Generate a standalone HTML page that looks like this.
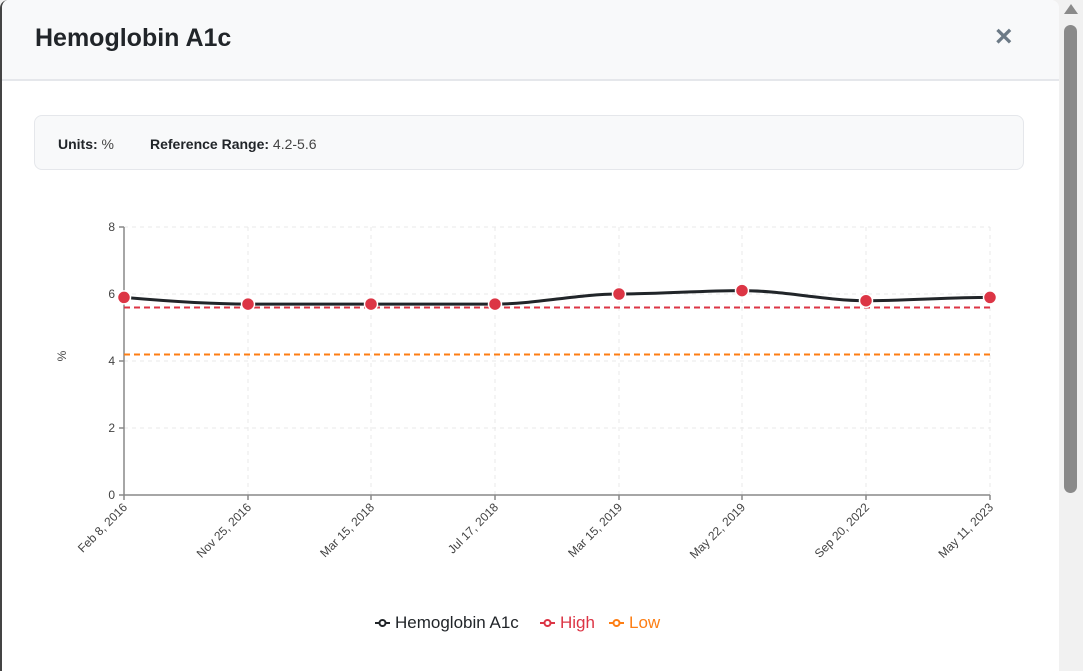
<!DOCTYPE html>
<html><head><style>
body{margin:0;width:1083px;height:671px;overflow:hidden;background:#f1f1f1;font-family:"Liberation Sans",sans-serif;position:relative}
.modal{position:absolute;left:0;top:0;width:1059px;height:671px;background:#fff;border-radius:8px 8px 0 0;overflow:hidden;border-left:2px solid #444;box-sizing:border-box}
.hdr{height:79px;background:#f8f9fa;border-bottom:2px solid #e5e7eb;position:relative}
.hdr h1{margin:0;position:absolute;left:33px;top:24px;font-size:25px;font-weight:600;color:#212529}
.x{position:absolute;left:993px;top:20px;font-size:30px;color:#6c7a86;font-weight:bold}
.info{position:absolute;left:32px;top:115px;width:990px;height:55px;box-sizing:border-box;background:#f8f9fa;border:1px solid #e5e7eb;border-radius:8px;font-size:14px;color:#444}
.info b{color:#212529;font-weight:600}
.sb{position:absolute;left:1064px;top:25px;width:13px;height:468px;background:#8a8a8a;border-radius:7px}
.arr{position:absolute;left:1064px;top:4px;width:0;height:0;border-left:7px solid transparent;border-right:7px solid transparent;border-bottom:10px solid #8a8a8a}
</style></head><body>
<div class="modal">
<div class="hdr"><h1>Hemoglobin A1c</h1><div class="x">×</div></div>
<div class="info"><span style="position:absolute;left:23px;top:20px"><b>Units:</b> %</span><span style="position:absolute;left:115px;top:20px"><b>Reference Range:</b> 4.2-5.6</span></div>
</div>
<div class="arr"></div><div class="sb"></div>
<svg width="1083" height="671" style="position:absolute;left:0;top:0" font-family="Liberation Sans, sans-serif">
<g stroke="#e8e8e8" stroke-dasharray="4,4" stroke-width="1">
<line x1="124" y1="227" x2="990" y2="227"/><line x1="124" y1="294" x2="990" y2="294"/><line x1="124" y1="361" x2="990" y2="361"/><line x1="124" y1="428" x2="990" y2="428"/>
<line x1="248" y1="227" x2="248" y2="495"/><line x1="371" y1="227" x2="371" y2="495"/><line x1="495" y1="227" x2="495" y2="495"/><line x1="619" y1="227" x2="619" y2="495"/><line x1="742" y1="227" x2="742" y2="495"/><line x1="866" y1="227" x2="866" y2="495"/><line x1="990" y1="227" x2="990" y2="495"/>
</g>
<g stroke="#888" stroke-width="1.5">
<line x1="124" y1="227" x2="124" y2="495"/><line x1="124" y1="495" x2="990" y2="495"/>
<line x1="119" y1="227" x2="124" y2="227"/><line x1="119" y1="294" x2="124" y2="294"/><line x1="119" y1="361" x2="124" y2="361"/><line x1="119" y1="428" x2="124" y2="428"/><line x1="119" y1="495" x2="124" y2="495"/>
<line x1="124" y1="495" x2="124" y2="500"/><line x1="248" y1="495" x2="248" y2="500"/><line x1="371" y1="495" x2="371" y2="500"/><line x1="495" y1="495" x2="495" y2="500"/><line x1="619" y1="495" x2="619" y2="500"/><line x1="742" y1="495" x2="742" y2="500"/><line x1="866" y1="495" x2="866" y2="500"/><line x1="990" y1="495" x2="990" y2="500"/>
</g>
<g font-size="12" fill="#444" text-anchor="end">
<text x="115" y="231">8</text><text x="115" y="298">6</text><text x="115" y="365">4</text><text x="115" y="432">2</text><text x="115" y="499">0</text>
</g>
<text x="66" y="356" font-size="12" fill="#444" transform="rotate(-90 66 356)" text-anchor="middle">%</text>
<g font-size="12" fill="#444" text-anchor="end">
<text transform="translate(128,508) rotate(-45)">Feb 8, 2016</text>
<text transform="translate(252,508) rotate(-45)">Nov 25, 2016</text>
<text transform="translate(375,508) rotate(-45)">Mar 15, 2018</text>
<text transform="translate(499,508) rotate(-45)">Jul 17, 2018</text>
<text transform="translate(623,508) rotate(-45)">Mar 15, 2019</text>
<text transform="translate(746,508) rotate(-45)">May 22, 2019</text>
<text transform="translate(870,508) rotate(-45)">Sep 20, 2022</text>
<text transform="translate(994,508) rotate(-45)">May 11, 2023</text>
</g>
<line x1="124" y1="307.5" x2="990" y2="307.5" stroke="#dc3545" stroke-width="2" stroke-dasharray="6,4"/>
<line x1="124" y1="354.5" x2="990" y2="354.5" stroke="#fd7e14" stroke-width="2" stroke-dasharray="6,4"/>
<path d="M124,297.4 C165,301 206,304.1 248,304.1 L495,304.1 C536,304.1 578,294 619,294 C660,294 701,290.6 742,290.6 C783,290.6 825,300.7 866,300.7 C907,300.7 949,297.4 990,297.4" fill="none" stroke="#212529" stroke-width="3"/>
<g fill="#dc3545" stroke="#fff" stroke-width="1.5">
<circle cx="124" cy="297.4" r="6.5"/><circle cx="248" cy="304.1" r="6.5"/><circle cx="371" cy="304.1" r="6.5"/><circle cx="495" cy="304.1" r="6.5"/><circle cx="619" cy="294" r="6.5"/><circle cx="742" cy="290.6" r="6.5"/><circle cx="866" cy="300.7" r="6.5"/><circle cx="990" cy="297.4" r="6.5"/>
</g>
<g font-size="17">
<line x1="375" y1="623" x2="390" y2="623" stroke="#212529" stroke-width="2"/><circle cx="382.5" cy="623" r="3" fill="#fff" stroke="#212529" stroke-width="2"/>
<text x="395" y="628" fill="#212529">Hemoglobin A1c</text>
<line x1="540" y1="623" x2="555" y2="623" stroke="#dc3545" stroke-width="2"/><circle cx="547.5" cy="623" r="3" fill="#fff" stroke="#dc3545" stroke-width="2"/>
<text x="560" y="628" fill="#dc3545">High</text>
<line x1="609" y1="623" x2="624" y2="623" stroke="#fd7e14" stroke-width="2"/><circle cx="616.5" cy="623" r="3" fill="#fff" stroke="#fd7e14" stroke-width="2"/>
<text x="629" y="628" fill="#fd7e14">Low</text>
</g>
</svg>
</body></html>
